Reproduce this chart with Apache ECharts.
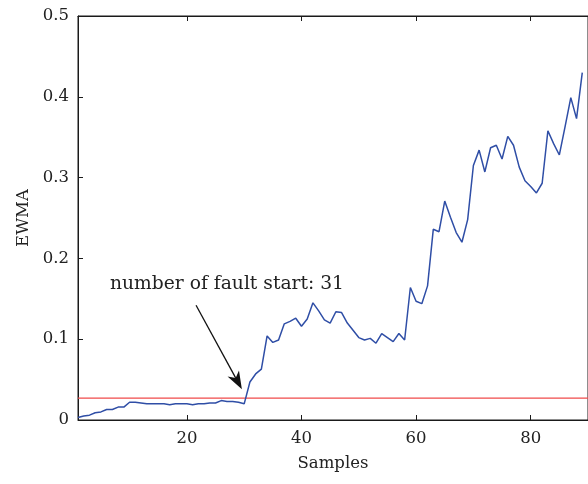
<!DOCTYPE html>
<html><head><meta charset="utf-8">
<script src="https://cdn.jsdelivr.net/npm/echarts@6/dist/echarts.min.js"></script>
<style>html,body{margin:0;padding:0;background:#fff}#c{width:588px;height:484px}</style>
</head><body><div id="c"></div>
<script>
const samples = [];
for (let i = 1; i <= 89; i++) samples.push(i);
const ewma = [
 0.003,0.005,0.006,0.009,0.010,0.013,0.013,0.016,0.016,0.022,
 0.022,0.021,0.020,0.020,0.020,0.020,0.019,0.020,0.020,0.020,
 0.019,0.020,0.020,0.021,0.021,0.024,0.023,0.023,0.022,0.020,
 0.047,0.057,0.063,0.104,0.096,0.099,0.119,0.122,0.126,0.116,
 0.125,0.145,0.135,0.124,0.120,0.134,0.133,0.120,0.111,0.102,
 0.099,0.101,0.095,0.107,0.102,0.097,0.107,0.099,0.164,0.147,
 0.144,0.166,0.236,0.233,0.271,0.251,0.232,0.220,0.248,0.315,
 0.334,0.307,0.337,0.340,0.323,0.351,0.340,0.313,0.296,0.289,
 0.281,0.293,0.358,0.342,0.328,0.363,0.399,0.373,0.430
];
const threshold = 0.027;
const xTicks = [20, 40, 60, 80];
const yTicks = [0, 0.1, 0.2, 0.3, 0.4, 0.5];
const faultStart = 31;
const annotationText = 'number of fault start: ' + faultStart;
const arrowFrom = [21.6, 0.142];
const arrowTo = [29.6, 0.038];

const font = 'DejaVu Serif';
const chart = echarts.init(document.getElementById('c'), null, {renderer: 'canvas'});
const axisCommon = {
  axisLine: {show: true, lineStyle: {color: '#1a1a1a', width: 1}},
  splitLine: {show: false}
};
chart.setOption({
  animation: false,
  backgroundColor: '#fff',
  grid: {left: 78, top: 16, width: 518, height: 404, show: true, borderColor: '#1a1a1a', borderWidth: 1, backgroundColor: 'transparent'},
  xAxis: [{
    type: 'value', min: 1, max: 90, position: 'bottom',
    name: 'Samples', nameLocation: 'middle', nameGap: 35,
    nameTextStyle: {fontFamily: font, fontSize: 16.5, color: '#222'},
    ...axisCommon,
    axisTick: {show: true, inside: true, length: 5, customValues: xTicks, lineStyle: {color: '#1a1a1a'}},
    axisLabel: {show: true, customValues: xTicks, fontFamily: font, fontSize: 16.5, color: '#222', margin: 10}
  }, {
    type: 'value', min: 1, max: 90, position: 'top',
    ...axisCommon,
    axisTick: {show: true, inside: true, length: 5, customValues: xTicks, lineStyle: {color: '#1a1a1a'}},
    axisLabel: {show: false}
  }],
  yAxis: [{
    type: 'value', min: 0, max: 0.5, interval: 0.1,
    name: 'EWMA', nameLocation: 'middle', nameGap: 44,
    nameTextStyle: {fontFamily: font, fontSize: 16.5, color: '#222'},
    ...axisCommon,
    axisTick: {show: true, inside: true, length: 5, lineStyle: {color: '#1a1a1a'}},
    axisLabel: {fontFamily: font, fontSize: 16.5, color: '#222', margin: 9,
      formatter: v => { const t = yTicks.find(y => Math.abs(y - v) < 1e-9); return t === undefined ? '' : String(t); }}
  }],
  series: [{
    type: 'line', xAxisIndex: 0, yAxisIndex: 0,
    data: [[1, threshold], [90, threshold]],
    showSymbol: false, symbol: 'none',
    lineStyle: {color: '#f04a4a', width: 1.3},
    z: 2
  }, {
    type: 'line', xAxisIndex: 0, yAxisIndex: 0,
    data: samples.map((s, i) => [s, ewma[i]]),
    showSymbol: false, symbol: 'none',
    lineStyle: {color: '#2f4ea6', width: 1.5},
    z: 3
  }]
});

// arrow annotation, positioned from data coordinates
const p1 = chart.convertToPixel({xAxisIndex: 0, yAxisIndex: 0}, arrowFrom);
const p2 = chart.convertToPixel({xAxisIndex: 0, yAxisIndex: 0}, arrowTo);
const dx = p2[0] - p1[0], dy = p2[1] - p1[1];
const len = Math.sqrt(dx * dx + dy * dy);
const ux = dx / len, uy = dy / len, nx = -uy, ny = ux;
const headLen = 18, headHalf = 6.5, notch = 13;
const base = [p2[0] - ux * headLen, p2[1] - uy * headLen];
const inner = [p2[0] - ux * notch, p2[1] - uy * notch];
chart.setOption({
  graphic: [{
    type: 'text', left: 110, top: 275,
    style: {text: annotationText, fontFamily: font, fontSize: 18.7, fill: '#222'}
  }, {
    type: 'line', silent: true,
    shape: {x1: p1[0], y1: p1[1], x2: inner[0], y2: inner[1]},
    style: {stroke: '#111', lineWidth: 1.3}
  }, {
    type: 'polygon', silent: true,
    shape: {points: [
      [p2[0], p2[1]],
      [base[0] + nx * headHalf, base[1] + ny * headHalf],
      inner,
      [base[0] - nx * headHalf, base[1] - ny * headHalf]
    ]},
    style: {fill: '#111'}
  }]
});
</script></body></html>
